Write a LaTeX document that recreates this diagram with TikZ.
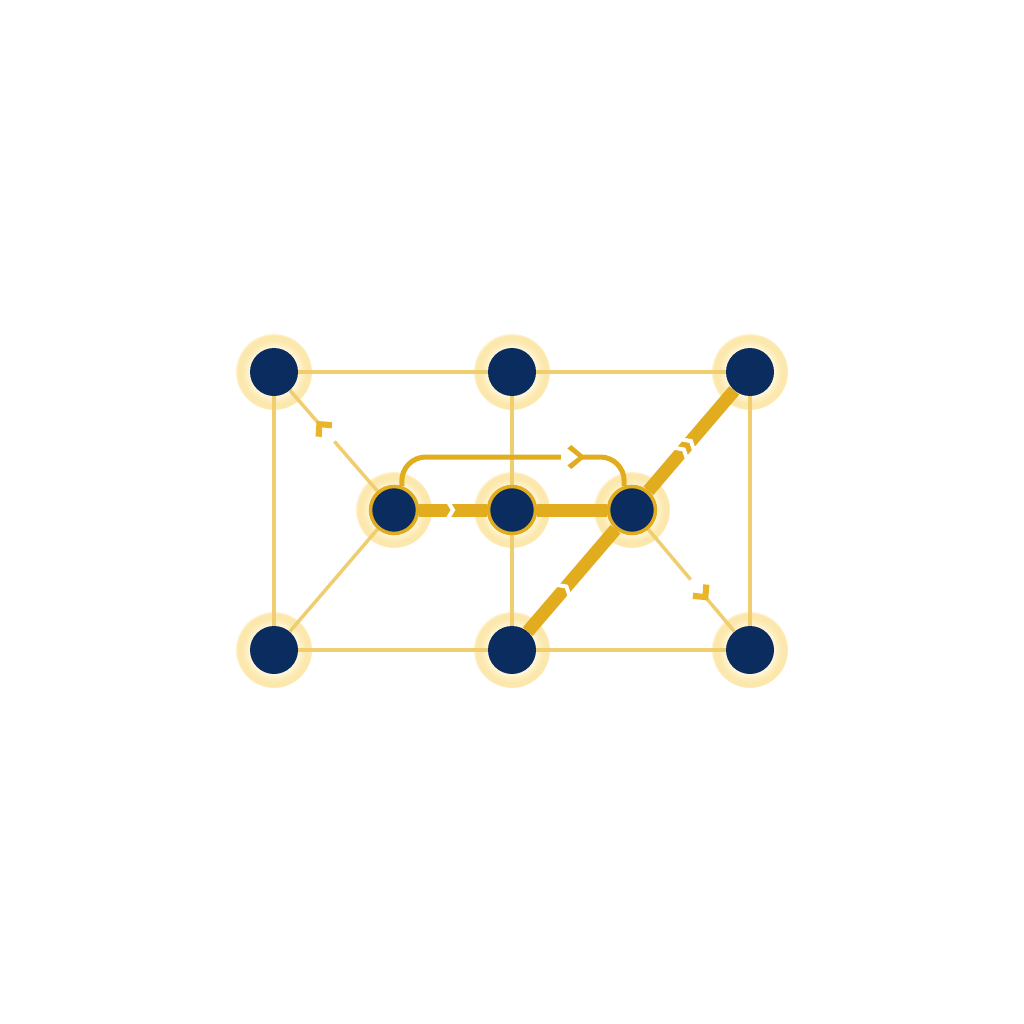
\documentclass[tikz,border=0pt]{standalone}
\usetikzlibrary{decorations.markings,calc}
\definecolor{navy}{RGB}{11,44,94}
\definecolor{gold}{RGB}{226,172,31}
\definecolor{chevgold}{RGB}{234,181,42}
\definecolor{thingold}{RGB}{240,206,112}
\definecolor{haloA}{RGB}{255,245,215}
\definecolor{haloB}{RGB}{252,232,172}
\definecolor{haloC}{RGB}{254,242,210}
\pgfdeclareradialshading{haloshade}{\pgfpoint{0bp}{0bp}}{color(0bp)=(haloA);color(16bp)=(haloA);color(21bp)=(haloB);color(24bp)=(haloB);color(25bp)=(haloC);color(50bp)=(haloC)}
\pgfdeclarelayer{halo}
\pgfdeclarelayer{edges}
\pgfsetlayers{halo,edges,main}
\tikzset{
  vtx/.style={circle, fill=navy, minimum size=48pt, inner sep=0pt},
  hub/.style={vtx, draw=gold, line width=3.5pt, minimum size=47pt},
  haloring/.style={shading=haloshade},
  thinedge/.style={draw=thingold, line width=3.5pt},
  thickedge/.style={draw=gold, line width=13pt},
  loopedge/.style={draw=gold, line width=5pt, rounded corners=24pt},
  cutmark/.style={postaction={decorate}, decoration={markings, mark=at position #1 with {%
      \draw[white, sharp corners, line width=4pt, miter limit=10] (-6pt,10pt)--(0pt,0pt)--(-6pt,-10pt);}}},
  dblcutmark/.style={postaction={decorate}, decoration={markings, mark=at position #1 with {%
      \draw[white, sharp corners, line width=4pt, miter limit=10] (-11pt,10pt)--(-5pt,0pt)--(-11pt,-10pt);
      \draw[white, sharp corners, line width=4pt, miter limit=10] (0pt,10pt)--(6pt,0pt)--(0pt,-10pt);}}},
  chevmark/.style={postaction={decorate}, decoration={markings, mark=at position #1 with {%
      \fill[white, sharp corners] (-23pt,-2.5pt) rectangle (-3pt,2.5pt);
      \fill[chevgold, sharp corners] (4pt,0pt) -- (-7pt,11pt) -- (-11.5pt,6.5pt) -- (-4.5pt,0pt) -- (-11.5pt,-6.5pt) -- (-7pt,-11pt) -- cycle;}}},
  bigchevmark/.style={postaction={decorate}, decoration={markings, mark=at position #1 with {%
      \fill[white, sharp corners] (-20pt,-3.5pt) rectangle (-3pt,3.5pt);
      \fill[gold, sharp corners] (4pt,0pt) -- (-10pt,12pt) -- (-14pt,8.5pt) -- (-3pt,0pt) -- (-14pt,-8.5pt) -- (-10pt,-12pt) -- cycle;}}},
}
\begin{document}
\begin{tikzpicture}[x=1pt,y=-1pt]
\useasboundingbox (0,0) rectangle (1024,1024);
% nodes
\node[vtx] (TL) at (274,372) {};
\node[vtx] (TM) at (512,372) {};
\node[vtx] (TR) at (750,372) {};
\node[hub] (ML) at (394,510) {};
\node[hub] (MM) at (512,510) {};
\node[hub] (MR) at (632,510) {};
\node[vtx] (BL) at (274,650) {};
\node[vtx] (BM) at (512,650) {};
\node[vtx] (BR) at (750,650) {};
\coordinate (looptop) at (512,457);
% halos
\begin{pgfonlayer}{halo}
\foreach \n in {TL,TM,TR,ML,MM,MR,BL,BM,BR}{
  \shade[haloring] (\n.center) circle[radius=38pt];
}
\end{pgfonlayer}
% edges
\begin{pgfonlayer}{edges}
\draw[thinedge] (TL) -- (TM);
\draw[thinedge] (TM) -- (TR);
\draw[thinedge] (TL) -- (BL);
\draw[thinedge] (TR) -- (BR);
\draw[thinedge] (BL) -- (BM);
\draw[thinedge] (BM) -- (BR);
\draw[thinedge] (TM) -- (MM);
\draw[thinedge] (MM) -- (BM);
\draw[thinedge] (BL) -- (ML);
\draw[thinedge, chevmark=0.665] (ML) -- (TL);
\draw[thinedge, chevmark=0.665] (MR) -- (BR);
\draw[thickedge, cutmark=0.5] (ML) -- (MM);
\draw[thickedge] (MM) -- (MR);
\draw[thickedge, cutmark=0.44] (BM) -- (MR);
\draw[thickedge, dblcutmark=0.45] (MR) -- (TR);
\draw[loopedge, bigchevmark=0.763] (ML.72) |- (looptop) -| (MR.108);
\end{pgfonlayer}
\end{tikzpicture}
\end{document}
